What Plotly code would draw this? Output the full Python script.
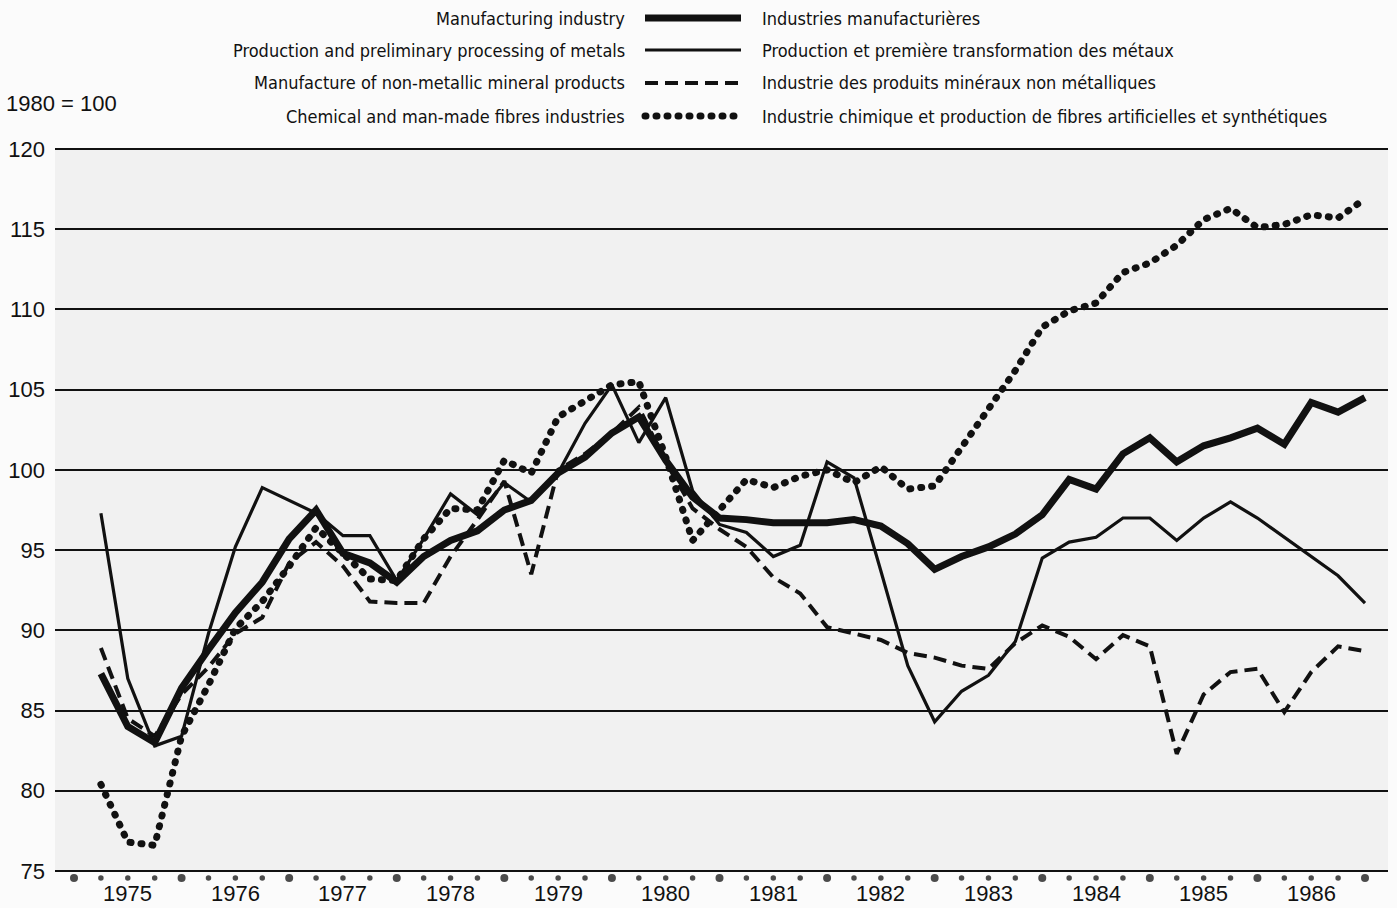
import plotly.graph_objects as go

# Quarterly indices, 1980 = 100, 1975 Q1 .. 1986 Q4
YEARS = list(range(1975, 1987))
QUARTERS = [1, 2, 3, 4]

manufacturing = [
    87.3, 84.0, 83.0, 86.4, 88.8, 91.1, 93.0, 95.7, 97.5, 94.8, 94.2, 93.0,
    94.6, 95.6, 96.2, 97.5, 98.1, 99.8, 100.8, 102.3, 103.3, 100.6, 98.3, 97.0,
    96.9, 96.7, 96.7, 96.7, 96.9, 96.5, 95.4, 93.8, 94.6, 95.2, 96.0, 97.2,
    99.4, 98.8, 101.0, 102.0, 100.5, 101.5, 102.0, 102.6, 101.6, 104.2, 103.6, 104.5,
]
metals = [
    97.3, 87.0, 82.8, 83.4, 89.8, 95.2, 98.9, 98.1, 97.3, 95.9, 95.9, 93.1,
    95.7, 98.5, 97.2, 99.2, 98.0, 99.8, 102.9, 105.3, 101.7, 104.5, 98.7, 96.6,
    96.1, 94.6, 95.3, 100.5, 99.5, 93.7, 87.8, 84.3, 86.2, 87.2, 89.3, 94.5,
    95.5, 95.8, 97.0, 97.0, 95.6, 97.0, 98.0, 97.0, 95.8, 94.6, 93.4, 91.7,
]
minerals = [
    88.9, 84.5, 83.4, 86.0, 87.7, 89.8, 90.8, 94.2, 95.5, 94.0, 91.8, 91.7,
    91.7, 94.6, 96.9, 99.3, 93.5, 100.0, 101.0, 102.3, 103.9, 100.5, 97.6, 96.3,
    95.2, 93.3, 92.3, 90.2, 89.8, 89.4, 88.6, 88.3, 87.8, 87.6, 89.2, 90.3,
    89.6, 88.2, 89.7, 89.0, 82.3, 86.0, 87.4, 87.6, 84.9, 87.4, 89.0, 88.7,
]
chemicals = [
    80.4, 76.8, 76.6, 83.4, 86.6, 90.1, 91.8, 94.0, 96.4, 94.8, 93.2, 93.1,
    95.7, 97.6, 97.5, 100.6, 99.8, 103.3, 104.3, 105.3, 105.5, 100.8, 95.6, 97.5,
    99.4, 98.9, 99.6, 100.0, 99.2, 100.2, 98.8, 99.0, 101.4, 103.8, 106.2, 108.9,
    109.9, 110.4, 112.3, 112.9, 114.0, 115.6, 116.3, 115.1, 115.3, 115.9, 115.7, 116.9,
]

labels_en = [
    "Manufacturing industry",
    "Production and preliminary processing of metals",
    "Manufacture of non-metallic mineral products",
    "Chemical and man-made fibres industries",
]
labels_fr = [
    "Industries manufacturières",
    "Production et première transformation des métaux",
    "Industrie des produits minéraux non métalliques",
    "Industrie chimique et production de fibres artificielles et synthétiques",
]
base_label = "1980 = 100"
y_ticks = [75, 80, 85, 90, 95, 100, 105, 110, 115, 120]

# ---- layout geometry (pixels) ----
W, H = 1397, 908
M_L, M_R, M_T, M_B = 55, 9, 147, 24
PLOT_W = W - M_L - M_R
PLOT_H = H - M_T - M_B
Y120_PX, Y75_PX = 149, 871          # where the 120 and 75 grid lines sit
px_per_unit = (Y75_PX - Y120_PX) / 45.0
y_top = 120 + (Y120_PX - M_T) / px_per_unit
y_bot = y_top - PLOT_H / px_per_unit

INK = "#111111"
NARROW = "DejaVu Sans Condensed, Liberation Sans Narrow, sans-serif"
REGULAR = "Liberation Sans, Arial, Helvetica, sans-serif"

# a quarter's value sits at the end of that quarter
period_x = [y + q / 4 for y in YEARS for q in QUARTERS]

styles = {
    "manufacturing": dict(width=7, dash="solid"),
    "metals": dict(width=3.2, dash="solid"),
    "minerals": dict(width=4, dash="13px,7px"),
    "chemicals": dict(width=7, dash="1px,10px"),
}
series = [
    ("chemicals", chemicals),
    ("minerals", minerals),
    ("metals", metals),
    ("manufacturing", manufacturing),
]

fig = go.Figure()
for key, vals in series:
    st = styles[key]
    fig.add_trace(go.Scatter(
        x=period_x, y=vals, mode="lines", uid=key, name=key,
        line=dict(color=INK, width=st["width"], dash=st["dash"]),
        showlegend=False, hoverinfo="skip",
    ))

# quarter markers under the baseline, larger at the year boundaries
mark_x = [y + q / 4 for y in YEARS for q in range(4)] + [YEARS[-1] + 1]
mark_size = [8 if abs(x - round(x)) < 1e-9 else 5.5 for x in mark_x]
mark_y = 75 - 7 / px_per_unit
fig.add_trace(go.Scatter(
    x=mark_x, y=[mark_y] * len(mark_x), mode="markers",
    marker=dict(color="#000000", size=mark_size, line=dict(width=0)),
    cliponaxis=False, showlegend=False, hoverinfo="skip",
))

# x range chosen so that 1975.0 falls at pixel 74 and 1987.0 at pixel 1365
px_per_year = (1365 - 74) / 12.0
x0 = 1975 - (74 - M_L) / px_per_year
x1 = 1975 + (W - M_R - 74) / px_per_year

fig.update_xaxes(
    range=[x0, x1], showgrid=False, zeroline=False, showline=False,
    automargin=False, showticklabels=False, ticks="",
)
fig.update_yaxes(
    range=[y_bot, y_top], tickmode="array", tickvals=y_ticks,
    ticktext=[str(v) for v in y_ticks], ticks="", ticklabelstandoff=9,
    automargin=False,
    showgrid=True, gridcolor=INK, gridwidth=1.6, zeroline=False, showline=False,
    tickfont=dict(family=REGULAR, size=22, color=INK),
)


def px_x(p):
    return (p - M_L) / PLOT_W


def px_y(p):
    return (H - M_B - p) / PLOT_H


# shaded chart field between 75 and 120
shapes = [dict(
    type="rect", xref="paper", yref="y", x0=0, x1=1, y0=75, y1=120,
    fillcolor="#f1f1f1", line=dict(width=0), layer="below",
)]
annotations = []

# year labels centred in each year, just under the quarter markers
for y in YEARS:
    annotations.append(dict(
        text=str(y), xref="x", yref="paper", x=y + 0.5, y=px_y(893),
        xanchor="center", yanchor="middle", showarrow=False,
        font=dict(family=REGULAR, size=22, color=INK),
    ))

# legend: English label | line sample | French label
row_y = [18, 50, 83, 116]
legend_keys = ["manufacturing", "metals", "minerals", "chemicals"]
for key, ry, en, fr in zip(legend_keys, row_y, labels_en, labels_fr):
    st = styles[key]
    shapes.append(dict(
        type="line", xref="paper", yref="paper",
        x0=px_x(645), x1=px_x(741), y0=px_y(ry), y1=px_y(ry),
        line=dict(color=INK, width=st["width"], dash=st["dash"]),
    ))
    annotations.append(dict(
        text=en, xref="paper", yref="paper", x=px_x(627), y=px_y(ry),
        xanchor="right", yanchor="middle", showarrow=False,
        font=dict(family=NARROW, size=18, color=INK),
    ))
    annotations.append(dict(
        text=fr, xref="paper", yref="paper", x=px_x(760), y=px_y(ry),
        xanchor="left", yanchor="middle", showarrow=False,
        font=dict(family=NARROW, size=18, color=INK),
    ))

annotations.append(dict(
    text=base_label, xref="paper", yref="paper", x=px_x(4), y=px_y(103),
    xanchor="left", yanchor="middle", showarrow=False,
    font=dict(family=REGULAR, size=22, color=INK),
))

fig.update_layout(
    template="none",
    width=W, height=H, autosize=False,
    margin=dict(l=M_L, r=M_R, t=M_T, b=M_B, pad=0),
    paper_bgcolor="#fbfbfb", plot_bgcolor="#fbfbfb",
    shapes=shapes, annotations=annotations, showlegend=False,
)

# round caps turn the short dash segments into round dots
post = """
var gd = document.getElementById('{plot_id}');
gd.querySelectorAll('path').forEach(function (p) {
  var d = (p.style.strokeDasharray || '').replace(/\\s/g, '');
  if (d.indexOf('1px,10px') === 0) { p.style.strokeLinecap = 'round'; }
});
"""

fig.write_html("out.html", config={"displayModeBar": False}, post_script=post)
